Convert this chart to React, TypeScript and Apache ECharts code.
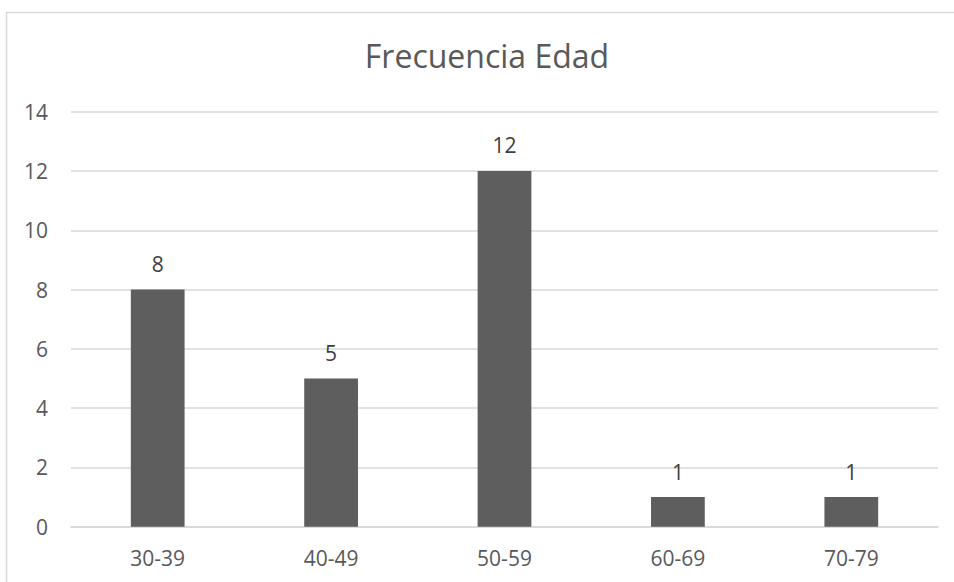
import React, { useEffect, useRef } from "react";
import * as echarts from "echarts";

const categories = ["30-39", "40-49", "50-59", "60-69", "70-79"];
const values = [8, 5, 12, 1, 1];
const titleText = "Frecuencia Edad";

export default function App() {
  const ref = useRef<HTMLDivElement>(null);
  useEffect(() => {
    document.body.style.margin = "0";
    const chart = echarts.init(ref.current!, null, { renderer: "svg" });
    const font = "'Open Sans', 'Noto Sans', sans-serif";
    chart.setOption({
      animation: false,
      backgroundColor: "#ffffff",
      textStyle: { fontFamily: font },
      title: {
        text: titleText,
        left: 482,
        textAlign: "center",
        top: 34,
        textStyle: { fontFamily: font, fontSize: 32, fontWeight: "normal", color: "#595959" },
      },
      graphic: [
        {
          type: "rect",
          shape: { x: 6.5, y: 12.5, width: 1200, height: 1200 },
          style: { fill: "none", stroke: "#d9d9d9", lineWidth: 1.5 },
          silent: true,
        },
      ],
      grid: { left: 71, right: 16, top: 111.7, bottom: 55.3, containLabel: false },
      xAxis: {
        type: "category",
        data: categories,
        axisLine: { show: true, lineStyle: { color: "#d9d9d9", width: 1.5 } },
        axisTick: { show: false },
        axisLabel: { color: "#595959", fontSize: 21, fontFamily: font, margin: 21 },
      },
      yAxis: {
        type: "value",
        min: 0,
        max: 14,
        interval: 2,
        axisLine: { show: false },
        axisTick: { show: false },
        splitLine: { lineStyle: { color: "#d9d9d9", width: 1.5 } },
        axisLabel: { color: "#595959", fontSize: 21, fontFamily: font, margin: 23 },
      },
      series: [
        {
          type: "bar",
          data: values,
          barWidth: "31%",
          itemStyle: { color: "#5e5e5e" },
          label: {
            show: true,
            position: "top",
            distance: 15,
            color: "#404040",
            fontSize: 21,
            fontFamily: font,
          },
        },
      ],
    });
    return () => chart.dispose();
  }, []);
  return (
    <div
      ref={ref}
      style={{ position: "fixed", left: 0, top: 0, width: 954, height: 582 }}
    />
  );
}
